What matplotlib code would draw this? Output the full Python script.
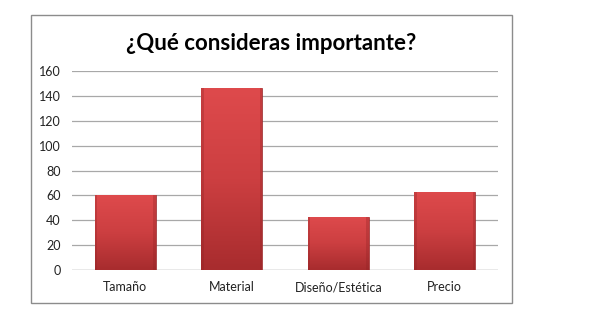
import numpy as np
import matplotlib
matplotlib.use('Agg')
from matplotlib import pyplot as plt
from matplotlib.patches import Rectangle
from matplotlib.colors import LinearSegmentedColormap

categories = ['Tamaño', 'Material', 'Diseño/Estética', 'Precio']
values = [60, 146, 43, 63]
yticks = [0, 20, 40, 60, 80, 100, 120, 140, 160]

plt.rcParams['font.family'] = ['Lato', 'DejaVu Sans']

fig = plt.figure(figsize=(5.97, 3.26), dpi=100)
fig.patch.set_facecolor('white')

# outer chart border
fig.patches.append(Rectangle((31 / 597, 1 - 303 / 326), 481 / 597, 288 / 326,
                             transform=fig.transFigure, fill=False,
                             edgecolor='#8c8c8c', linewidth=1.0))

ax = fig.add_axes([72 / 597, 1 - 270 / 326, 426 / 597, 199 / 326])
x = np.arange(len(categories))
bars = ax.bar(x, values, width=0.57, color='#c0393b', edgecolor='#9a2a2c',
              linewidth=0.5, zorder=3)

# vertical shading inside each bar
shade = LinearSegmentedColormap.from_list('shade', ['#a82c2e', '#cc3f41', '#de4a4c'])
grad = np.linspace(0, 1, 100).reshape(-1, 1)
for b in bars:
    x0, y0 = b.get_x(), b.get_y()
    w, h = b.get_width(), b.get_height()
    im = ax.imshow(grad, cmap=shade, aspect='auto', origin='lower',
                   extent=[x0, x0 + w, y0, y0 + h], zorder=3.5)
    im.set_clip_path(b)
    # soft darker side edges
    ax.add_patch(Rectangle((x0, y0), w * 0.04, h, color='#8e2224', alpha=0.3,
                           linewidth=0, zorder=4))
    ax.add_patch(Rectangle((x0 + w * 0.96, y0), w * 0.04, h, color='#8e2224',
                           alpha=0.3, linewidth=0, zorder=4))

ax.set_xlim(-0.5, len(categories) - 0.5)
ax.set_ylim(0, 160)
ax.set_yticks(yticks)
ax.set_xticks(x)
ax.set_xticklabels(categories)
ax.tick_params(axis='both', length=0, labelsize=9, colors='#222222')
ax.tick_params(axis='y', pad=8)
ax.tick_params(axis='x', pad=8)
ax.yaxis.grid(True, color='#a8a8a8', linewidth=0.9, zorder=0)
for s in ax.spines.values():
    s.set_visible(False)
ax.axhline(0, color='#a0a0a0', linewidth=0.9, zorder=2)

fig.text(271 / 597, 1 - 44 / 326, '¿Qué consideras importante?',
         ha='center', va='center', fontsize=16, fontweight='bold', color='black')

fig.savefig('out.png', dpi=100)
